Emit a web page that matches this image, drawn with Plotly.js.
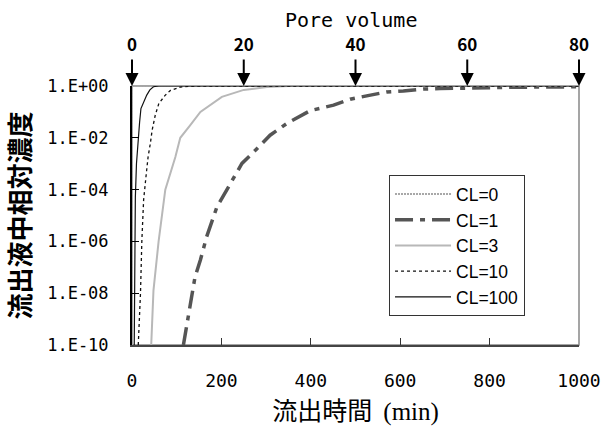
<!DOCTYPE html>
<html>
<head>
<meta charset="utf-8">
<script src="https://cdn.plot.ly/plotly-3.0.1.min.js"></script>
<style>html,body{margin:0;padding:0;background:#fff;}#chart{width:601px;height:432px;}</style>
</head>
<body>
<div id="chart"></div>
<script>
// ---- data (time in min, concentration as log10 exponent) ----
var seriesNames = ['CL=0', 'CL=1', 'CL=3', 'CL=10', 'CL=100'];

var cl0Time = [0, 0, 1000];
var cl0Exp  = [-10, 0, 0];

var cl1Time = [115, 127, 141, 153, 167, 190, 220, 246, 280, 309, 346, 399, 451, 488, 525, 570, 607, 652, 689, 750, 850, 1000];
var cl1Exp  = [-10, -8.78, -7.37, -6.72, -5.82, -4.67, -3.76, -2.99, -2.41, -1.9, -1.45, -0.95, -0.74, -0.51, -0.38, -0.23, -0.19, -0.12, -0.1, -0.07, -0.05, -0.03];

var cl3Time = [43, 48, 59.5, 67, 74.5, 97, 108, 130, 153, 201, 250, 302, 350, 1000];
var cl3Exp  = [-10, -7.9, -6, -5.05, -4, -2.74, -2, -1.52, -1.0, -0.42, -0.15, -0.04, 0, 0];

var cl10Time = [14, 17, 19, 22, 26, 32, 36, 41, 45, 52, 60, 74, 86, 108, 140, 1000];
var cl10Exp  = [-10, -9, -8, -6, -4.4, -3.38, -2.74, -2.22, -1.71, -1.13, -0.68, -0.36, -0.17, -0.04, 0, 0];

var cl100Time = [5, 5.5, 6.5, 7.5, 10, 13, 15, 17, 20, 26, 33, 40, 48, 60, 1000];
var cl100Exp  = [-10, -8, -6, -4.3, -3, -2.2, -1.9, -1.4, -0.87, -0.62, -0.35, -0.15, -0.03, 0, 0];

var yTickVals = [1e-10, 1e-8, 1e-6, 1e-4, 1e-2, 1];
var yTickText = ['1.E-10', '1.E-08', '1.E-06', '1.E-04', '1.E-02', '1.E+00'];
var xTickVals = [0, 200, 400, 600, 800, 1000];
var pvTickVals = [0, 20, 40, 60, 80];

function pow10(arr) { return arr.map(function (e) { return Math.pow(10, e); }); }

var gothic = '"Noto Sans CJK JP", "Noto Sans", sans-serif';
var mono = '"DejaVu Sans Mono", monospace';

var traces = [
  { x: cl0Time, y: pow10(cl0Exp), name: seriesNames[0], mode: 'lines',
    line: { color: '#a8a8a8', width: 2, dash: '2px,1px' } },
  { x: cl1Time, y: pow10(cl1Exp), name: seriesNames[1], mode: 'lines',
    line: { color: '#555555', width: 3.5, dash: '18px,7px,5px,7px' } },
  { x: cl3Time, y: pow10(cl3Exp), name: seriesNames[2], mode: 'lines',
    line: { color: '#b8b8b8', width: 2 } },
  { x: cl10Time, y: pow10(cl10Exp), name: seriesNames[3], mode: 'lines',
    line: { color: '#111111', width: 1.3, dash: 'dot' } },
  { x: cl100Time, y: pow10(cl100Exp), name: seriesNames[4], mode: 'lines',
    line: { color: '#111111', width: 1.2 } },
  // invisible trace to activate the top Pore volume axis
  { x: pvTickVals, y: [1, 1, 1, 1, 1], xaxis: 'x2', mode: 'markers',
    marker: { opacity: 0 }, showlegend: false, hoverinfo: 'skip' }
];

var annotations = pvTickVals.map(function (v) {
  return { x: v, xref: 'x2', y: 1, yref: 'paper', text: '', showarrow: true,
    ax: 0, ay: -28, arrowhead: 2, arrowsize: 1.3, arrowwidth: 2, arrowcolor: '#000' };
});
annotations.push({ x: 0.49, xref: 'paper', y: 1, yref: 'paper', yshift: 66,
  text: 'Pore volume', showarrow: false, xanchor: 'center', yanchor: 'middle',
  font: { family: mono, size: 20, color: '#000' } });

var layout = {
  width: 601, height: 432,
  margin: { l: 132, r: 22, t: 86, b: 87 },
  paper_bgcolor: '#fff', plot_bgcolor: '#fff',
  showlegend: true,
  xaxis: {
    range: [0, 1000], tickvals: xTickVals, ticks: 'inside', ticklen: 7, tickwidth: 1,
    tickcolor: '#333', showline: true, linecolor: '#444', linewidth: 2,
    showgrid: false, zeroline: false, ticklabelstandoff: 18,
    tickfont: { family: mono, size: 18, color: '#000' },
    title: { text: '流出時間  <span style="font-family:Liberation Serif">(min)</span>',
      font: { family: gothic, size: 25, color: '#000' }, standoff: 12 }
  },
  xaxis2: {
    overlaying: 'x', side: 'top', range: [0, 80], tickvals: pvTickVals,
    ticks: 'outside', ticklen: 27, tickcolor: 'rgba(0,0,0,0)',
    showline: false, showgrid: false, zeroline: false,
    tickfont: { family: gothic, size: 17, color: '#000', weight: 'bold' }
  },
  yaxis: {
    type: 'log', range: [-10, 0], tickvals: yTickVals, ticktext: yTickText,
    ticks: 'inside', ticklen: 7, tickcolor: '#000', showline: true, linecolor: '#000', linewidth: 2,
    showgrid: false, zeroline: false, ticklabelstandoff: 18,
    tickfont: { family: mono, size: 17, color: '#000' },
    title: { text: '流出液中相対濃度', font: { family: gothic, size: 26, color: '#000', weight: 'bold' }, standoff: 14 }
  },
  legend: {
    x: 0.575, y: 0.656, xanchor: 'left', yanchor: 'top',
    bgcolor: '#fff', bordercolor: '#333', borderwidth: 1,
    font: { family: '"Liberation Sans", Arial, sans-serif', size: 17.5, color: '#000' },
    tracegroupgap: 0, itemwidth: 56
  },
  shapes: [
    { type: 'rect', xref: 'paper', yref: 'paper', x0: 0, x1: 1, y0: 0, y1: 1,
      line: { color: '#888', width: 1.5 }, layer: 'below' }
  ],
  annotations: annotations
};

Plotly.newPlot('chart', traces, layout, { displayModeBar: false, staticPlot: true });
</script>
</body>
</html>
